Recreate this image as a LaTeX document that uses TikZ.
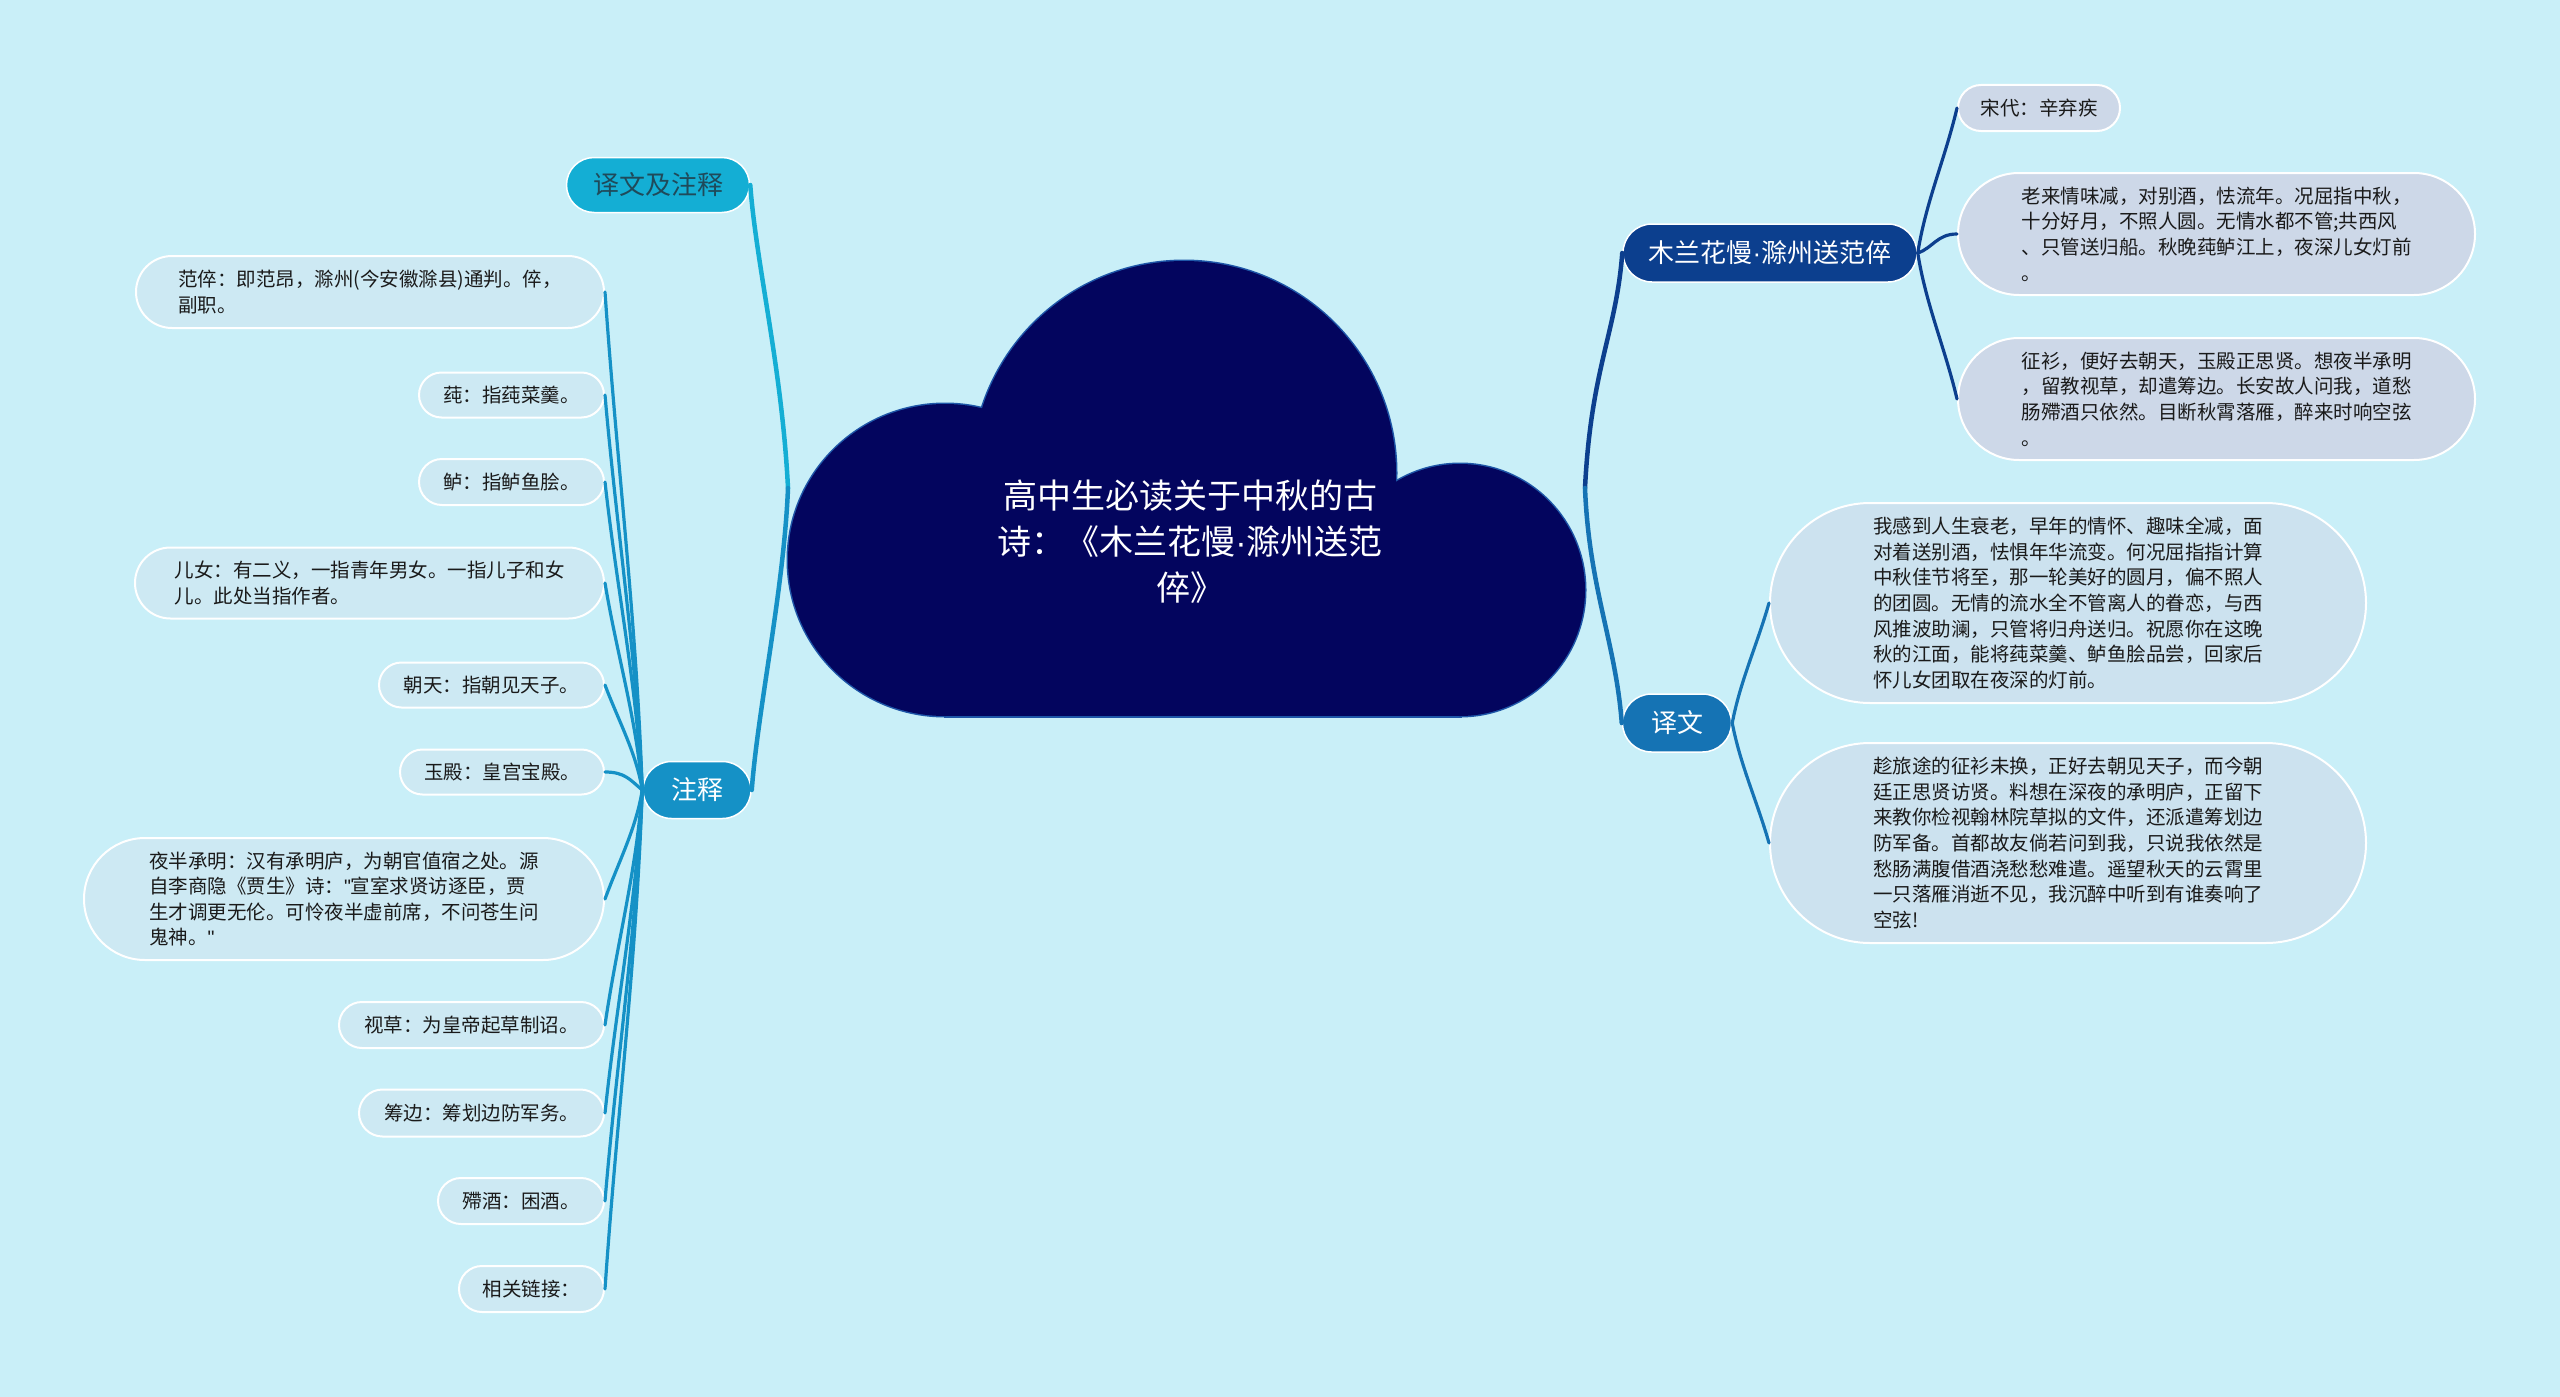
\documentclass[tikz,border=0pt]{standalone}
\usepackage{fontspec}
\setmainfont{Noto Sans CJK SC}
\newfontfamily\latinfont{Liberation Sans}
\usetikzlibrary{shapes.misc}
\definecolor{bgc}{HTML}{C9EFF8}
\definecolor{cloudfill}{HTML}{03055E}
\definecolor{cloudline}{HTML}{1E56A8}
\definecolor{cyanb}{HTML}{14AED4}
\definecolor{zsb}{HTML}{1591C6}
\definecolor{mpb}{HTML}{0C3F8E}
\definecolor{ywb}{HTML}{1573B4}
\definecolor{leafL}{HTML}{CDE9F3}
\definecolor{leafR}{HTML}{CDD8E8}
\definecolor{leafT}{HTML}{CCE2EF}
\definecolor{ywtext}{HTML}{1F4A5A}
\definecolor{leaftext}{HTML}{1A1A1A}
\newcommand{\mdot}{{\latinfont\symbol{"00B7}}}
\newcommand{\sq}{{\latinfont\symbol{34}}}
\begin{document}
\begin{tikzpicture}[x=1pt,y=-1pt,
  branchbox/.style={rounded rectangle, inner sep=0, draw=white, line width=1.5,
    text=white, font=\fontsize{26}{32}\selectfont},
  leafbox/.style={rounded rectangle, inner sep=0, align=left, draw=white, line width=2,
    text=leaftext, font=\fontsize{19.5}{25.6}\selectfont},
  conn/.style={line width=3.2, line cap=round},
  bconn/.style={line width=4.5, line cap=round}]
\fill[bgc] (0,0) rectangle (2560,1397);
\useasboundingbox (0,0) rectangle (2560,1397);

\coordinate (J1) at (788,488);
\coordinate (J2) at (1585,488);

% branch nodes
\node[branchbox, fill=cyanb, text=ywtext, minimum width=183, minimum height=55] (yw) at (658,185) {译文及注释};
\node[branchbox, fill=zsb, minimum width=108, minimum height=57] (zs) at (697,790) {注释};
\node[branchbox, fill=mpb, minimum width=294, minimum height=58] (mp) at (1770,253) {木兰花慢\mdot 滁州送范倅};
\node[branchbox, fill=ywb, minimum width=109, minimum height=58] (yt) at (1677,723) {译文};

% left leaves
\node[leafbox, fill=leafL, minimum width=468, minimum height=72, anchor=east] (l1) at (605,292) {范倅：即范昂，滁州(今安徽滁县)通判。倅，\\副职。};
\node[leafbox, fill=leafL, minimum width=185, minimum height=45, anchor=east] (l2) at (605,395) {莼：指莼菜羹。};
\node[leafbox, fill=leafL, minimum width=185, minimum height=46, anchor=east] (l3) at (605,482) {鲈：指鲈鱼脍。};
\node[leafbox, fill=leafL, minimum width=469, minimum height=71, anchor=east] (l4) at (605,583) {儿女：有二义，一指青年男女。一指儿子和女\\儿。此处当指作者。};
\node[leafbox, fill=leafL, minimum width=225, minimum height=45, anchor=east] (l5) at (605,685) {朝天：指朝见天子。};
\node[leafbox, fill=leafL, minimum width=204, minimum height=45, anchor=east] (l6) at (605,772) {玉殿：皇宫宝殿。};
\node[leafbox, fill=leafL, minimum width=520, minimum height=122, anchor=east] (l7) at (605,899) {夜半承明：汉有承明庐，为朝官值宿之处。源\\自李商隐《贾生》诗：\sq 宣室求贤访逐臣，贾\\生才调更无伦。可怜夜半虚前席，不问苍生问\\鬼神。\sq};
\node[leafbox, fill=leafL, minimum width=265, minimum height=46, anchor=east] (l8) at (605,1025) {视草：为皇帝起草制诏。};
\node[leafbox, fill=leafL, minimum width=245, minimum height=47, anchor=east] (l9) at (605,1113) {筹边：筹划边防军务。};
\node[leafbox, fill=leafL, minimum width=166, minimum height=46, anchor=east] (l10) at (605,1201) {殢酒：困酒。};
\node[leafbox, fill=leafL, minimum width=145, minimum height=46, anchor=east] (l11) at (605,1289) {相关链接：};

% right leaves
\node[leafbox, fill=leafR, minimum width=162, minimum height=46, anchor=west] (r1) at (1957,108) {宋代：辛弃疾};
\node[leafbox, fill=leafR, minimum width=517, minimum height=122, anchor=west] (r2) at (1957,234) {老来情味减，对别酒，怯流年。况屈指中秋，\\十分好月，不照人圆。无情水都不管;共西风\\、只管送归船。秋晚莼鲈江上，夜深儿女灯前\\。};
\node[leafbox, fill=leafR, minimum width=517, minimum height=122, anchor=west] (r3) at (1957,399) {征衫，便好去朝天，玉殿正思贤。想夜半承明\\，留教视草，却遣筹边。长安故人问我，道愁\\肠殢酒只依然。目断秋霄落雁，醉来时响空弦\\。};
\node[leafbox, fill=leafT, minimum width=596, minimum height=200, anchor=west] (r4) at (1769,603) {我感到人生衰老，早年的情怀、趣味全减，面\\对着送别酒，怯惧年华流变。何况屈指指计算\\中秋佳节将至，那一轮美好的圆月，偏不照人\\的团圆。无情的流水全不管离人的眷恋，与西\\风推波助澜，只管将归舟送归。祝愿你在这晚\\秋的江面，能将莼菜羹、鲈鱼脍品尝，回家后\\怀儿女团取在夜深的灯前。};
\node[leafbox, fill=leafT, minimum width=596, minimum height=200, anchor=west] (r5) at (1769,843) {趁旅途的征衫未换，正好去朝见天子，而今朝\\廷正思贤访贤。料想在深夜的承明庐，正留下\\来教你检视翰林院草拟的文件，还派遣筹划边\\防军备。首都故友倘若问到我，只说我依然是\\愁肠满腹借酒浇愁愁难遣。遥望秋天的云霄里\\一只落雁消逝不见，我沉醉中听到有谁奏响了\\空弦!};

% connectors: branches to root junctions
\draw[bconn, cyanb] (yw.east) .. controls +(6,80) and +(-6,-120) .. (J1);
\draw[bconn, zsb] (zs.east) .. controls +(6,-80) and +(-4,100) .. (J1);
\draw[bconn, mpb] (mp.west) .. controls +(-6,80) and +(6,-120) .. (J2);
\draw[bconn, ywb] (yt.west) .. controls +(-6,-80) and +(4,100) .. (J2);

% connectors: zs children
\draw[conn, zsb] (l1.east) .. controls +(12,174) and +(-6,-174) .. (zs.west);
\draw[conn, zsb] (l2.east) .. controls +(12,138) and +(-6,-138) .. (zs.west);
\draw[conn, zsb] (l3.east) .. controls +(12,108) and +(-6,-108) .. (zs.west);
\draw[conn, zsb] (l4.east) .. controls +(12,72) and +(-6,-72) .. (zs.west);
\draw[conn, zsb] (l5.east) .. controls +(14,37) and +(-6,-37) .. (zs.west);
\draw[conn, zsb] (l6.east) .. controls +(20,0) and +(-12,-10) .. (zs.west);
\draw[conn, zsb] (l7.east) .. controls +(14,-38) and +(-6,38) .. (zs.west);
\draw[conn, zsb] (l8.east) .. controls +(12,-82) and +(-6,82) .. (zs.west);
\draw[conn, zsb] (l9.east) .. controls +(12,-113) and +(-6,113) .. (zs.west);
\draw[conn, zsb] (l10.east) .. controls +(12,-144) and +(-6,144) .. (zs.west);
\draw[conn, zsb] (l11.east) .. controls +(12,-175) and +(-6,175) .. (zs.west);

% connectors: right children
\draw[conn, mpb] (mp.east) .. controls +(8,-51) and +(-12,51) .. (r1.west);
\draw[conn, mpb] (mp.east) .. controls +(15,-5) and +(-20,0) .. (r2.west);
\draw[conn, mpb] (mp.east) .. controls +(8,51) and +(-12,-51) .. (r3.west);
\draw[conn, ywb] (yt.east) .. controls +(8,-42) and +(-12,42) .. (r4.west);
\draw[conn, ywb] (yt.east) .. controls +(8,42) and +(-12,-42) .. (r5.west);

% cloud (root)
\begin{scope}
\draw[cloudline, line width=3] (1184,473) circle[radius=212];
\draw[cloudline, line width=3] (945,560) ellipse[x radius=157, y radius=156];
\draw[cloudline, line width=3] (1460,590) ellipse[x radius=125, y radius=126];
\draw[cloudline, line width=3] (945,560) rectangle (1460,716);
\fill[cloudfill] (1184,473) circle[radius=212];
\fill[cloudfill] (945,560) ellipse[x radius=157, y radius=156];
\fill[cloudfill] (1460,590) ellipse[x radius=125, y radius=126];
\fill[cloudfill] (945,560) rectangle (1460,716);
\end{scope}
\node[text=white, align=center, font=\fontsize{34}{46}\selectfont] (root) at (1190,542) {高中生必读关于中秋的古\\诗：《木兰花慢\mdot 滁州送范\\倅》};
\end{tikzpicture}
\end{document}
